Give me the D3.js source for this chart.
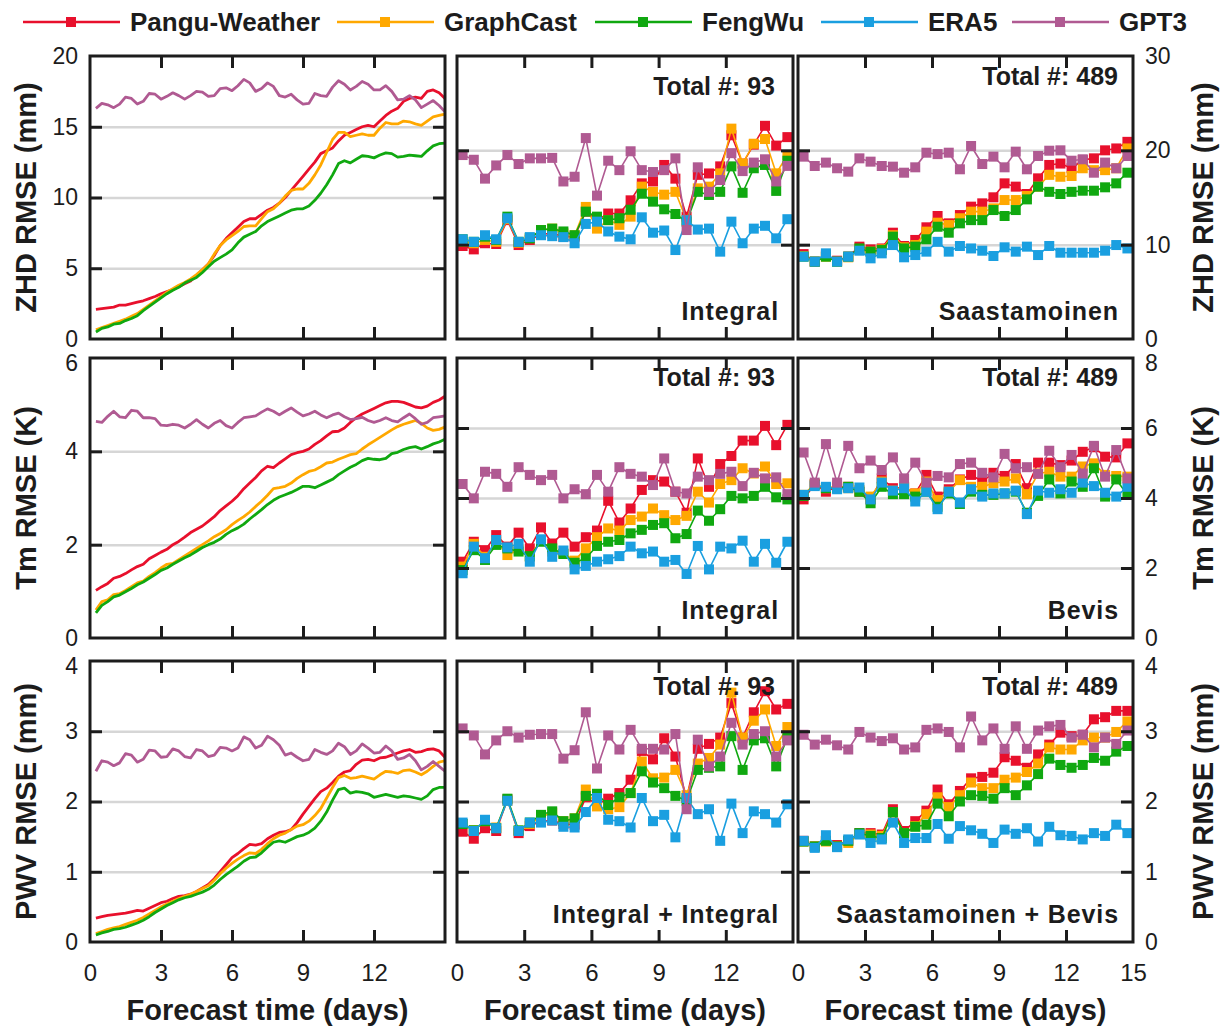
<!DOCTYPE html>
<html>
<head>
<meta charset="utf-8">
<script src="https://cdn.jsdelivr.net/npm/d3@7"></script>
<style>
  body { margin: 0; background: #fff; }
  svg { display: block; font-family: "Liberation Sans", Arial, Helvetica, sans-serif; }
</style>
</head>
<body>
<svg id="chart" width="1224" height="1026"></svg>
<script>
// ---- data ----
const models = ['Pangu-Weather', 'GraphCast', 'FengWu', 'ERA5', 'GPT3'];

// 6-hourly lead times for the continuous curves, 12-hourly for the station panels
const lineDays = [0.25,0.5,0.75,1,1.25,1.5,1.75,2,2.25,2.5,2.75,3,3.25,3.5,3.75,4,4.25,4.5,4.75,5,
  5.25,5.5,5.75,6,6.25,6.5,6.75,7,7.25,7.5,7.75,8,8.25,8.5,8.75,9,9.25,9.5,9.75,10,
  10.25,10.5,10.75,11,11.25,11.5,11.75,12,12.25,12.5,12.75,13,13.25,13.5,13.75,14,14.25,14.5,14.75,15];
const markerDays = [0.25,0.75,1.25,1.75,2.25,2.75,3.25,3.75,4.25,4.75,5.25,5.75,6.25,6.75,7.25,
  7.75,8.25,8.75,9.25,9.75,10.25,10.75,11.25,11.75,12.25,12.75,13.25,13.75,14.25,14.75];

// ZHD RMSE (mm), gridded
const zhdPangu = [2.1,2.15,2.2,2.25,2.4,2.4,2.5,2.6,2.7,2.85,3.0,3.2,3.35,3.5,3.7,3.9,4.1,4.5,4.9,5.3,
  5.9,6.6,7.1,7.5,7.9,8.3,8.5,8.5,8.8,9.1,9.3,9.6,10.0,10.5,11.0,11.5,12.0,12.5,13.1,13.3,
  13.5,14.0,14.4,14.6,14.8,15.0,15.1,15.0,15.4,15.8,16.1,16.3,16.8,17.0,17.1,17.0,17.5,17.6,17.4,17.0];
const zhdGraphCast = [0.65,0.8,0.95,1.1,1.25,1.4,1.6,1.8,2.1,2.4,2.7,3.0,3.3,3.55,3.8,4.0,4.25,4.55,4.9,5.3,
  6.0,6.6,7.0,7.3,7.6,7.95,8.0,8.0,8.5,9.0,9.2,9.6,10.1,10.5,10.6,10.6,11.0,11.6,12.3,13.2,
  14.1,14.6,14.6,14.3,14.4,14.5,14.4,14.4,14.9,15.3,15.2,15.2,15.4,15.35,15.2,15.1,15.4,15.7,15.8,15.9];
const zhdFengWu = [0.5,0.75,0.85,1.05,1.1,1.3,1.45,1.65,2.0,2.3,2.6,2.9,3.2,3.45,3.65,3.95,4.15,4.35,4.7,5.1,
  5.5,5.75,6.0,6.3,6.8,7.2,7.4,7.6,8.0,8.3,8.5,8.7,8.9,9.1,9.2,9.2,9.4,9.8,10.3,10.9,
  11.6,12.4,12.6,12.45,12.7,12.95,12.9,12.8,13.0,13.15,13.1,12.85,12.9,13.0,12.95,12.9,13.3,13.65,13.8,13.85];
const zhdGPT3 = [16.3,16.65,16.55,16.35,16.6,17.1,17.0,16.6,16.8,17.35,17.3,16.95,17.15,17.4,17.2,16.95,17.2,17.5,17.45,17.15,
  17.2,17.7,17.75,17.55,17.9,18.35,18.1,17.5,17.7,18.1,17.85,17.2,17.1,17.3,16.9,16.6,16.65,17.35,17.2,17.15,
  17.8,18.25,18.0,17.6,17.85,18.2,18.0,17.6,17.6,17.9,17.5,16.9,16.95,17.2,16.9,16.35,16.6,16.85,16.5,16.05];

// ZHD RMSE (mm) at stations, Integral
const zhdIntPangu = [9.86,9.5,10.15,10.07,12.6,9.96,10.5,11.1,11.2,10.85,10.85,13.5,12.6,13.3,13.3,
  14.7,16.5,16.7,18.45,17.0,12.97,17.4,17.55,18.3,21.6,18.6,20.6,22.6,20.5,21.4];
const zhdIntGraphCast = [10.3,10.15,10.5,10.3,12.7,10.2,10.7,11.55,11.7,11.2,11.0,14.0,11.7,12.6,12.1,
  12.97,16.15,15.6,15.3,15.6,12.6,15.97,16.15,17.56,22.3,18.6,20.7,21.2,17.56,19.5];
const zhdIntFengWu = [10.57,10.3,10.85,10.5,12.97,10.3,10.67,11.55,11.7,11.4,11.0,13.5,12.97,12.6,12.8,
  13.7,15.4,14.56,13.75,13.25,12.44,15.6,15.27,15.6,18.3,15.5,18.1,18.45,15.7,18.9];
const zhdIntERA5 = [10.57,10.3,11.0,10.57,12.8,10.3,10.8,11.0,10.9,10.8,10.15,12.2,12.44,11.4,10.85,
  10.57,12.9,11.27,11.5,9.43,12.6,11.6,11.7,9.26,12.44,10.15,11.7,12.0,10.67,12.7];
const zhdIntGPT3 = [19.5,19.0,17.0,18.4,19.5,18.55,19.15,19.15,19.2,16.7,17.2,21.3,15.2,18.9,17.9,
  19.9,17.9,17.7,17.9,19.15,11.55,18.2,15.6,16.85,19.7,17.8,18.7,19.05,16.7,18.35];

// ZHD RMSE (mm) at stations, Saastamoinen
const zhdSaasPangu = [9.0,8.2,8.9,8.3,8.73,9.79,9.5,9.6,11.27,9.86,10.5,11.84,13.04,12.26,13.14,
  14.03,14.38,15.02,16.5,16.15,15.37,17.03,18.45,18.6,18.1,18.97,19.15,20.0,20.2,20.9];
const zhdSaasGraphCast = [8.8,8.2,8.73,8.2,8.66,9.5,9.26,9.5,11.0,9.72,9.96,11.38,12.33,12.08,12.8,
  13.5,13.5,13.85,14.73,14.73,15.16,16.15,17.4,17.2,17.28,18.1,17.9,17.9,18.1,20.2];
const zhdSaasFengWu = [8.73,8.2,8.73,8.2,8.73,9.6,9.26,9.43,10.85,9.6,9.79,10.57,11.9,11.27,12.26,
  12.6,12.6,13.67,13.04,13.67,14.8,16.15,15.6,15.37,15.6,15.72,15.72,16.08,16.5,17.63];
const zhdSaasERA5 = [8.73,8.2,9.08,8.2,8.73,9.36,8.55,9.08,9.96,8.66,8.9,9.26,10.3,9.26,9.86,
  9.6,9.36,8.8,9.72,9.26,9.79,8.9,9.86,9.15,9.15,9.15,9.15,9.36,9.96,9.6];
const zhdSaasGPT3 = [19.33,18.34,18.7,18.1,17.74,19.15,18.8,18.34,18.27,17.63,18.2,19.75,19.6,19.75,17.99,
  20.46,18.55,19.33,18.2,19.86,17.99,19.4,19.96,20.0,18.9,19.05,17.63,18.7,18.1,19.4];

// Tm RMSE (K), gridded
const tmPangu = [1.02,1.1,1.17,1.28,1.32,1.38,1.46,1.53,1.58,1.7,1.77,1.84,1.9,2.0,2.07,2.16,2.26,2.33,2.4,2.5,
  2.6,2.73,2.83,2.93,3.05,3.2,3.32,3.44,3.58,3.68,3.65,3.75,3.84,3.93,3.97,4.0,4.05,4.15,4.23,4.33,
  4.42,4.43,4.5,4.62,4.72,4.8,4.86,4.92,4.98,5.04,5.07,5.07,5.05,5.0,4.95,4.93,4.97,5.05,5.1,5.18];
const tmGraphCast = [0.6,0.78,0.82,0.93,0.95,1.02,1.1,1.18,1.22,1.32,1.4,1.5,1.58,1.6,1.68,1.76,1.84,1.92,2.0,2.08,
  2.17,2.24,2.32,2.43,2.52,2.6,2.7,2.82,2.93,3.06,3.2,3.22,3.25,3.32,3.42,3.5,3.57,3.6,3.67,3.75,
  3.77,3.83,3.88,3.93,3.95,4.05,4.14,4.22,4.3,4.38,4.46,4.53,4.58,4.62,4.66,4.6,4.5,4.45,4.47,4.52];
const tmFengWu = [0.54,0.7,0.78,0.88,0.92,0.99,1.06,1.14,1.2,1.28,1.36,1.45,1.5,1.58,1.65,1.72,1.78,1.86,1.94,2.0,
  2.05,2.12,2.22,2.3,2.36,2.44,2.55,2.65,2.75,2.86,2.95,3.02,3.07,3.12,3.18,3.25,3.25,3.22,3.28,3.34,
  3.4,3.5,3.58,3.66,3.72,3.8,3.85,3.83,3.82,3.85,3.95,3.98,4.04,4.08,4.1,4.05,4.1,4.16,4.2,4.26];
const tmGPT3 = [4.64,4.62,4.75,4.86,4.74,4.72,4.88,4.86,4.72,4.72,4.7,4.56,4.55,4.58,4.56,4.5,4.58,4.68,4.58,4.5,
  4.6,4.66,4.55,4.5,4.62,4.72,4.74,4.76,4.84,4.91,4.86,4.78,4.86,4.93,4.84,4.76,4.8,4.86,4.78,4.72,
  4.78,4.82,4.74,4.68,4.7,4.73,4.66,4.62,4.66,4.72,4.66,4.63,4.72,4.8,4.7,4.58,4.62,4.72,4.74,4.76];

// Tm RMSE (K) at stations, Integral
const tmIntPangu = [2.18,2.75,2.51,2.94,2.61,3.01,2.56,3.16,2.7,3.01,2.61,2.88,3.07,3.92,3.3,
  3.7,4.23,4.51,4.47,4.18,3.58,5.13,4.32,4.97,5.2,5.64,5.64,6.06,5.51,6.09];
const tmIntGraphCast = [2.04,2.69,2.32,2.75,2.37,2.53,2.32,2.8,2.47,2.42,2.21,2.56,2.88,3.13,3.07,
  3.37,3.47,3.7,3.51,3.37,3.49,4.18,3.87,4.4,4.51,4.85,4.7,4.9,4.4,4.42];
const tmIntFengWu = [1.94,2.51,2.23,2.66,2.56,2.47,2.34,2.75,2.56,2.4,2.15,2.28,2.63,2.75,2.8,
  2.99,3.09,3.23,3.28,2.85,2.97,3.64,3.35,3.68,4.06,3.99,4.06,4.32,4.02,3.96];
const tmIntERA5 = [1.85,2.61,2.28,2.8,2.59,2.69,2.18,2.82,2.32,2.5,1.96,2.06,2.18,2.25,2.34,
  2.61,2.42,2.47,2.18,2.23,1.83,2.63,1.96,2.61,2.56,2.78,2.18,2.69,2.15,2.75];
const tmIntGPT3 = [4.4,3.99,4.75,4.69,4.32,4.88,4.66,4.51,4.66,3.99,4.25,4.11,4.66,4.18,4.88,
  4.69,4.61,4.37,5.13,4.18,4.13,4.61,4.51,4.69,4.75,4.34,4.72,4.56,4.59,4.11];

// Tm RMSE (K) at stations, Bevis
const tmBevisPangu = [3.96,4.4,4.18,4.32,4.32,4.18,3.96,4.56,4.28,4.3,4.13,4.66,4.04,4.25,4.53,
  4.66,4.47,4.72,4.63,4.97,4.28,5.01,5.01,4.94,5.07,5.32,5.45,5.18,5.16,5.56];
const tmBevisGraphCast = [4.09,4.4,4.28,4.34,4.28,4.23,4.04,4.47,4.21,4.32,4.13,4.47,3.94,4.18,4.51,
  4.32,4.32,4.42,4.47,4.56,4.11,4.7,4.75,4.61,4.61,4.9,4.99,4.66,4.63,4.61];
const tmBevisFengWu = [4.06,4.37,4.28,4.28,4.32,4.18,3.85,4.32,4.11,4.11,4.04,4.18,3.75,4.13,3.83,
  4.18,4.09,4.09,4.13,4.18,3.58,4.06,4.53,4.13,4.47,4.32,4.85,4.04,4.53,4.09];
const tmBevisERA5 = [4.09,4.34,4.32,4.25,4.28,4.3,3.96,4.44,4.21,4.28,3.9,4.18,3.68,4.18,3.87,
  4.25,4.04,4.13,4.13,4.21,3.54,4.21,4.15,4.25,4.15,4.44,4.34,4.15,4.04,4.32];
const tmBevisGPT3 = [5.3,4.44,5.54,4.44,5.49,4.85,5.07,4.8,5.16,4.56,5.01,4.44,4.63,4.59,4.97,
  5.01,4.72,4.59,5.26,4.85,4.88,4.69,5.35,4.88,5.23,4.7,5.49,4.61,5.37,4.56];

// PWV RMSE (mm), gridded
const pwvPangu = [0.34,0.36,0.38,0.39,0.4,0.41,0.43,0.45,0.44,0.48,0.52,0.56,0.58,0.62,0.65,0.66,0.68,0.72,0.77,0.82,
  0.9,1.0,1.1,1.2,1.26,1.33,1.39,1.38,1.4,1.47,1.52,1.56,1.57,1.6,1.7,1.82,1.93,2.04,2.14,2.19,
  2.27,2.36,2.42,2.44,2.53,2.59,2.6,2.58,2.62,2.63,2.66,2.69,2.72,2.74,2.7,2.71,2.74,2.75,2.72,2.63];
const pwvGraphCast = [0.12,0.15,0.18,0.2,0.22,0.25,0.28,0.31,0.35,0.4,0.45,0.5,0.54,0.58,0.62,0.65,0.68,0.72,0.76,0.8,
  0.88,0.97,1.05,1.12,1.18,1.23,1.27,1.26,1.32,1.4,1.47,1.52,1.55,1.6,1.65,1.67,1.72,1.8,1.9,2.05,
  2.2,2.34,2.37,2.33,2.34,2.36,2.34,2.32,2.38,2.43,2.42,2.4,2.44,2.45,2.42,2.38,2.43,2.5,2.56,2.58];
const pwvFengWu = [0.1,0.13,0.15,0.18,0.19,0.21,0.24,0.27,0.31,0.36,0.42,0.47,0.52,0.56,0.6,0.63,0.65,0.68,0.71,0.75,
  0.81,0.89,0.96,1.02,1.08,1.15,1.2,1.21,1.27,1.35,1.42,1.44,1.42,1.46,1.5,1.52,1.56,1.62,1.72,1.85,
  2.02,2.17,2.19,2.12,2.14,2.13,2.11,2.06,2.08,2.1,2.08,2.06,2.08,2.07,2.05,2.03,2.08,2.17,2.2,2.2];
const pwvGPT3 = [2.43,2.58,2.56,2.51,2.55,2.68,2.66,2.56,2.6,2.73,2.72,2.63,2.64,2.75,2.72,2.64,2.62,2.74,2.72,2.64,
  2.66,2.77,2.76,2.72,2.76,2.92,2.88,2.76,2.8,2.93,2.88,2.8,2.66,2.69,2.63,2.58,2.6,2.74,2.7,2.67,
  2.72,2.83,2.78,2.67,2.72,2.82,2.76,2.69,2.7,2.79,2.72,2.6,2.62,2.67,2.58,2.45,2.5,2.57,2.5,2.43];

// PWV RMSE (mm) at stations, Integral + Integral
const pwvIntPangu = [1.57,1.47,1.62,1.58,2.03,1.55,1.65,1.72,1.73,1.68,1.67,2.06,1.96,2.04,2.12,
  2.31,2.72,2.6,2.9,2.64,2.05,2.75,2.82,2.91,3.4,2.91,3.27,3.57,3.31,3.39];
const pwvIntGraphCast = [1.68,1.59,1.72,1.63,2.01,1.58,1.68,1.78,1.84,1.72,1.76,2.17,1.93,1.89,1.92,
  2.12,2.57,2.33,2.34,2.45,2.09,2.54,2.62,2.81,3.55,2.91,3.15,3.31,2.79,3.06];
const pwvIntFengWu = [1.68,1.59,1.72,1.62,2.04,1.59,1.7,1.81,1.86,1.72,1.76,2.08,2.11,1.95,2.06,
  2.12,2.43,2.27,2.19,2.08,2.01,2.45,2.48,2.5,2.93,2.45,2.87,2.9,2.5,2.91];
const pwvIntERA5 = [1.7,1.58,1.74,1.62,2.01,1.58,1.7,1.7,1.73,1.64,1.63,1.85,2.05,1.74,1.72,
  1.63,2.05,1.72,1.81,1.49,2.05,1.82,1.89,1.44,1.97,1.55,1.86,1.82,1.7,1.96];
const pwvIntGPT3 = [3.04,2.94,2.67,2.87,3.0,2.91,2.95,2.96,2.96,2.61,2.73,3.27,2.47,2.94,2.74,
  3.02,2.75,2.75,2.74,2.96,1.89,2.88,2.5,2.64,3.12,2.81,2.96,3.0,2.64,2.87];

// PWV RMSE (mm) at stations, Saastamoinen + Bevis
const pwvSBPangu = [1.44,1.36,1.44,1.38,1.44,1.55,1.55,1.53,1.89,1.58,1.72,1.87,2.17,1.96,2.15,
  2.33,2.35,2.41,2.63,2.58,2.48,2.67,2.81,2.98,2.93,2.95,3.17,3.2,3.29,3.29];
const pwvSBGraphCast = [1.43,1.36,1.43,1.36,1.41,1.54,1.53,1.51,1.84,1.55,1.65,1.82,2.06,1.92,2.09,
  2.27,2.19,2.19,2.31,2.34,2.42,2.54,2.77,2.74,2.74,2.87,2.91,2.91,2.99,3.14];
const pwvSBFengWu = [1.43,1.36,1.44,1.36,1.44,1.55,1.51,1.48,1.85,1.55,1.64,1.67,1.97,1.79,2.0,
  2.09,2.08,2.04,2.19,2.09,2.23,2.39,2.61,2.52,2.48,2.52,2.62,2.58,2.71,2.79];
const pwvSBERA5 = [1.44,1.34,1.52,1.35,1.46,1.53,1.41,1.46,1.7,1.41,1.48,1.48,1.68,1.47,1.65,
  1.59,1.54,1.41,1.6,1.54,1.62,1.43,1.64,1.52,1.51,1.46,1.55,1.51,1.67,1.55];
const pwvSBGPT3 = [2.95,2.81,2.88,2.8,2.74,2.99,2.91,2.86,2.9,2.74,2.77,3.02,3.04,2.99,2.77,
  3.21,2.87,3.04,2.75,3.07,2.75,3.01,3.07,3.09,2.91,2.95,2.77,2.91,2.82,3.01];

const rowTitles = ['ZHD RMSE (mm)', 'Tm RMSE (K)', 'PWV RMSE (mm)'];
const xTitle = 'Forecast time (days)';

// ---- layout ----
const colors = ['#e8102c', '#ffa800', '#10a810', '#1a9fe0', '#b05a92'];
const colX = [[90, 445], [457, 793], [798, 1133]];
const rowY = [[56, 339], [358, 638], [661, 942]];
const font = '"Liberation Sans", Arial, Helvetica, sans-serif';
const ink = '#1c1c1c';

const panels = [
  {row: 0, col: 0, yMax: 20, yTicks: [0, 5, 10, 15, 20], series: [zhdPangu, zhdGraphCast, zhdFengWu, null, zhdGPT3]},
  {row: 0, col: 1, yMax: 30, yTicks: [0, 10, 20, 30], series: [zhdIntPangu, zhdIntGraphCast, zhdIntFengWu, zhdIntERA5, zhdIntGPT3],
    total: 'Total #: 93', method: 'Integral'},
  {row: 0, col: 2, yMax: 30, yTicks: [0, 10, 20, 30], series: [zhdSaasPangu, zhdSaasGraphCast, zhdSaasFengWu, zhdSaasERA5, zhdSaasGPT3],
    total: 'Total #: 489', method: 'Saastamoinen'},
  {row: 1, col: 0, yMax: 6, yTicks: [0, 2, 4, 6], series: [tmPangu, tmGraphCast, tmFengWu, null, tmGPT3]},
  {row: 1, col: 1, yMax: 8, yTicks: [0, 2, 4, 6, 8], series: [tmIntPangu, tmIntGraphCast, tmIntFengWu, tmIntERA5, tmIntGPT3],
    total: 'Total #: 93', method: 'Integral'},
  {row: 1, col: 2, yMax: 8, yTicks: [0, 2, 4, 6, 8], series: [tmBevisPangu, tmBevisGraphCast, tmBevisFengWu, tmBevisERA5, tmBevisGPT3],
    total: 'Total #: 489', method: 'Bevis'},
  {row: 2, col: 0, yMax: 4, yTicks: [0, 1, 2, 3, 4], series: [pwvPangu, pwvGraphCast, pwvFengWu, null, pwvGPT3]},
  {row: 2, col: 1, yMax: 4, yTicks: [0, 1, 2, 3, 4], series: [pwvIntPangu, pwvIntGraphCast, pwvIntFengWu, pwvIntERA5, pwvIntGPT3],
    total: 'Total #: 93', method: 'Integral + Integral'},
  {row: 2, col: 2, yMax: 4, yTicks: [0, 1, 2, 3, 4], series: [pwvSBPangu, pwvSBGraphCast, pwvSBFengWu, pwvSBERA5, pwvSBGPT3],
    total: 'Total #: 489', method: 'Saastamoinen + Bevis'}
];
// baseline of the "Total #" label, below panel top, per row/col
const totalOffset = [[0, 39, 29], [0, 28, 28], [0, 34, 34]];

const svg = d3.select('#chart');
const fmt = d3.format('d');

function styleAxis(sel, size) {
  sel.select('.domain').remove();
  sel.selectAll('text').attr('font-family', font).attr('font-size', size).attr('fill', ink);
}

panels.forEach(p => {
  const [x0, x1] = colX[p.col];
  const [y0, y1] = rowY[p.row];
  const x = d3.scaleLinear().domain([0, 15]).range([x0, x1]);
  const y = d3.scaleLinear().domain([0, p.yMax]).range([y1, y0]);
  const inner = p.yTicks.filter(v => v > 0 && v < p.yMax);
  const g = svg.append('g').attr('class', 'panel');

  // grid lines
  g.append('g').attr('transform', `translate(${x0},0)`)
    .call(d3.axisLeft(y).tickValues(inner).tickSize(-(x1 - x0)).tickFormat(''))
    .call(a => a.select('.domain').remove())
    .selectAll('line').attr('stroke', '#d6d6d6').attr('stroke-width', 2.5);

  // data
  p.series.forEach((vals, i) => {
    if (!vals) return;
    if (p.col === 0) {
      const line = d3.line().x((d, j) => x(lineDays[j])).y(d => y(d));
      g.append('path').datum(vals).attr('d', line)
        .attr('fill', 'none').attr('stroke', colors[i]).attr('stroke-width', 2.8)
        .attr('stroke-linejoin', 'round');
    } else {
      const line = d3.line().x((d, j) => x(markerDays[j])).y(d => y(d));
      const s = g.append('g');
      s.append('path').datum(vals).attr('d', line)
        .attr('fill', 'none').attr('stroke', colors[i]).attr('stroke-width', 1.6);
      s.selectAll('rect').data(vals).join('rect')
        .attr('x', (d, j) => x(markerDays[j]) - 5).attr('y', d => y(d) - 5)
        .attr('width', 10).attr('height', 10).attr('fill', colors[i]);
    }
  });

  // frame
  g.append('rect').attr('x', x0).attr('y', y0).attr('width', x1 - x0).attr('height', y1 - y0)
    .attr('fill', 'none').attr('stroke', ink).attr('stroke-width', 3);

  // inward ticks on all four sides
  const tk = sel => sel.call(a => a.select('.domain').remove())
    .selectAll('line').attr('stroke', ink).attr('stroke-width', 3);
  g.append('g').attr('transform', `translate(${x0},0)`)
    .call(d3.axisLeft(y).tickValues(inner).tickSize(-12).tickFormat('')).call(tk);
  g.append('g').attr('transform', `translate(${x1},0)`)
    .call(d3.axisRight(y).tickValues(inner).tickSize(-12).tickFormat('')).call(tk);
  g.append('g').attr('transform', `translate(0,${y0})`)
    .call(d3.axisTop(x).tickValues([3, 6, 9, 12]).tickSize(-12).tickFormat('')).call(tk);
  g.append('g').attr('transform', `translate(0,${y1})`)
    .call(d3.axisBottom(x).tickValues([3, 6, 9, 12]).tickSize(-12).tickFormat('')).call(tk);

  // tick labels; the top label of the lower rows sits a little lower, as in the source
  const nudgeTop = a => a.selectAll('.tick').filter(d => d === p.yMax && p.row > 0)
    .select('text').attr('dy', '0.55em');
  if (p.col === 0) {
    g.append('g').attr('transform', `translate(${x0},0)`)
      .call(d3.axisLeft(y).tickValues(p.yTicks).tickFormat(fmt).tickSize(0).tickPadding(12))
      .call(a => styleAxis(a, 23)).call(nudgeTop);
  }
  if (p.col === 2) {
    g.append('g').attr('transform', `translate(${x1},0)`)
      .call(d3.axisRight(y).tickValues(p.yTicks).tickFormat(fmt).tickSize(0).tickPadding(12))
      .call(a => styleAxis(a, 23)).call(nudgeTop);
  }
  if (p.row === 2) {
    const xt = p.col === 2 ? [0, 3, 6, 9, 12, 15] : [0, 3, 6, 9, 12];
    g.append('g').attr('transform', `translate(0,${y1})`)
      .call(d3.axisBottom(x).tickValues(xt).tickFormat(fmt).tickSize(0).tickPadding(22))
      .call(a => styleAxis(a, 24));
    g.append('text').attr('x', (x0 + x1) / 2).attr('y', 1020)
      .attr('text-anchor', 'middle').attr('font-family', font).attr('font-size', 29)
      .attr('font-weight', 'bold').attr('fill', ink).text(xTitle);
  }

  // annotations
  if (p.total) {
    const right = p.col === 1 ? x1 - 18 : x1 - 15;
    g.append('text').attr('x', right).attr('y', y0 + totalOffset[p.row][p.col])
      .attr('text-anchor', 'end').attr('font-family', font).attr('font-size', 25)
      .attr('font-weight', 'bold').attr('fill', ink).text(p.total);
    g.append('text').attr('x', x1 - 14).attr('y', y1 - 19)
      .attr('text-anchor', 'end').attr('font-family', font).attr('font-size', 25)
      .attr('font-weight', 'bold').attr('letter-spacing', 0.9).attr('fill', ink).text(p.method);
  }
});

// row titles, both sides
rowY.forEach(([y0, y1], r) => {
  const cy = (y0 + y1) / 2;
  [26, 1203].forEach(cx => {
    svg.append('text').attr('transform', `translate(${cx},${cy}) rotate(-90)`)
      .attr('text-anchor', 'middle').attr('dominant-baseline', 'central')
      .attr('font-family', font).attr('font-size', 29).attr('font-weight', 'bold')
      .attr('fill', ink).text(rowTitles[r]);
  });
});

// legend
const legendStart = [23, 337, 595, 821, 1012];
const legend = svg.append('g').attr('class', 'legend');
models.forEach((m, i) => {
  const lx = legendStart[i];
  const it = legend.append('g');
  it.append('line').attr('x1', lx).attr('x2', lx + 97).attr('y1', 22).attr('y2', 22)
    .attr('stroke', colors[i]).attr('stroke-width', 2.5);
  it.append('rect').attr('x', lx + 43).attr('y', 17).attr('width', 10).attr('height', 10)
    .attr('fill', colors[i]);
  it.append('text').attr('x', lx + 107).attr('y', 31)
    .attr('font-family', font).attr('font-size', 26).attr('font-weight', 'bold')
    .attr('fill', ink).text(m);
});
</script>
</body>
</html>
